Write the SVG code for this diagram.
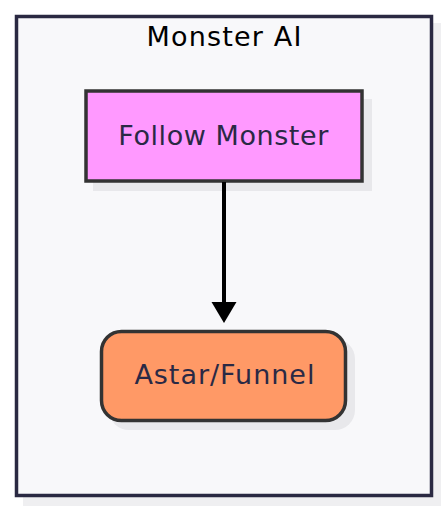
<svg xmlns="http://www.w3.org/2000/svg" width="448" height="512" viewBox="0 0 448 512">
  <defs>
    <style>
      .shadow { fill: #e8e8eb; }
      .node { stroke: #333333; stroke-width: 3.5; }
      .label { font-family: "DejaVu Sans", sans-serif; font-size: 27px; fill: #2a2945; text-anchor: middle; }
      .title { font-family: "DejaVu Sans", sans-serif; font-size: 27px; fill: #000000; text-anchor: middle; }
      .edge { stroke: #000000; stroke-width: 4; fill: none; }
    </style>
  </defs>
  <rect x="0" y="0" width="448" height="512" fill="#ffffff"/>
  <g id="cluster-monster-ai">
    <rect x="23" y="23" width="418" height="483" fill="#efeff1"/>
    <rect x="16.5" y="16.5" width="415" height="479" fill="#f8f8fa" stroke="#2a2942" stroke-width="3.5"/>
    <text class="title" x="224" y="45.7" textLength="155" lengthAdjust="spacing">Monster AI</text>
  </g>
  <g id="follow-monster">
    <rect class="shadow" x="93" y="99" width="279" height="92"/>
    <rect class="node" x="86" y="91" width="276" height="90" fill="#ff99ff"/>
    <text class="label" x="223.3" y="145" textLength="210" lengthAdjust="spacing">Follow Monster</text>
  </g>
  <g id="astar-funnel">
    <rect class="shadow" x="109" y="339" width="246" height="91" rx="20" ry="20"/>
    <rect class="node" x="101.5" y="331.5" width="244" height="89" rx="20" ry="20" fill="#ff9966"/>
    <text class="label" x="224.4" y="384" textLength="180" lengthAdjust="spacing">Astar/Funnel</text>
  </g>
  <g id="connectors">
    <path class="edge" d="M224,182 L224,303"/>
    <path d="M211.5,302 L236.5,302 L224,323 Z" fill="#000000"/>
  </g>
</svg>
